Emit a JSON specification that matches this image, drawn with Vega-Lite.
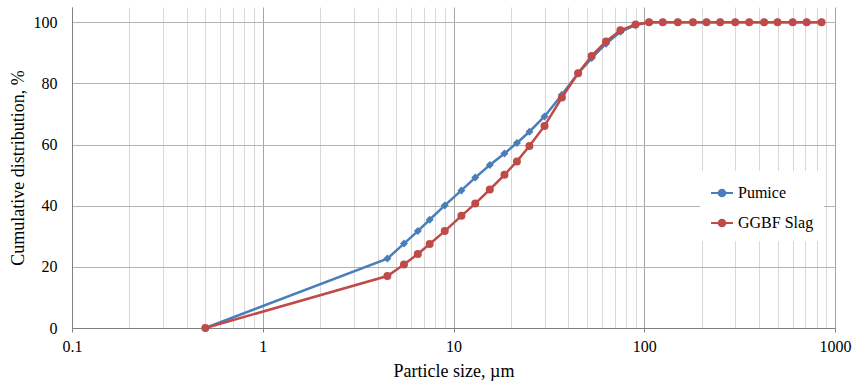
{
  "$schema": "https://vega.github.io/schema/vega-lite/v6.json",
  "width": 763,
  "height": 321,
  "autosize": {"type": "none"},
  "padding": {"left": 72, "top": 7, "right": 18, "bottom": 58},
  "background": "white",
  "config": {
    "font": "Liberation Serif",
    "view": {"stroke": null},
    "axis": {"labelFont": "Liberation Serif", "titleFont": "Liberation Serif", "labelColor": "black", "titleColor": "black", "titleFontWeight": "normal", "labelFontSize": 16, "titleFontSize": 18, "domainColor": "#808080", "domainWidth": 1},
    "legend": {"labelFont": "Liberation Serif"}
  },
  "data": {
    "values": [
      {"size": 0.5, "material": "Pumice", "cum": 0},
      {"size": 4.5, "material": "Pumice", "cum": 22.7},
      {"size": 5.5, "material": "Pumice", "cum": 27.6},
      {"size": 6.5, "material": "Pumice", "cum": 31.7},
      {"size": 7.5, "material": "Pumice", "cum": 35.4},
      {"size": 9, "material": "Pumice", "cum": 40.1},
      {"size": 11, "material": "Pumice", "cum": 45.0},
      {"size": 13, "material": "Pumice", "cum": 49.2},
      {"size": 15.5, "material": "Pumice", "cum": 53.3},
      {"size": 18.5, "material": "Pumice", "cum": 57.1},
      {"size": 21.5, "material": "Pumice", "cum": 60.5},
      {"size": 25, "material": "Pumice", "cum": 64.2},
      {"size": 30, "material": "Pumice", "cum": 69.2},
      {"size": 37, "material": "Pumice", "cum": 76.3},
      {"size": 45, "material": "Pumice", "cum": 83.3},
      {"size": 53, "material": "Pumice", "cum": 88.3},
      {"size": 63, "material": "Pumice", "cum": 93.0},
      {"size": 75, "material": "Pumice", "cum": 96.9},
      {"size": 90, "material": "Pumice", "cum": 99.1},
      {"size": 106, "material": "Pumice", "cum": 100},
      {"size": 125, "material": "Pumice", "cum": 100},
      {"size": 150, "material": "Pumice", "cum": 100},
      {"size": 180, "material": "Pumice", "cum": 100},
      {"size": 212, "material": "Pumice", "cum": 100},
      {"size": 250, "material": "Pumice", "cum": 100},
      {"size": 300, "material": "Pumice", "cum": 100},
      {"size": 355, "material": "Pumice", "cum": 100},
      {"size": 425, "material": "Pumice", "cum": 100},
      {"size": 500, "material": "Pumice", "cum": 100},
      {"size": 600, "material": "Pumice", "cum": 100},
      {"size": 710, "material": "Pumice", "cum": 100},
      {"size": 850, "material": "Pumice", "cum": 100},
      {"size": 0.5, "material": "GGBF Slag", "cum": 0},
      {"size": 4.5, "material": "GGBF Slag", "cum": 17.0},
      {"size": 5.5, "material": "GGBF Slag", "cum": 20.8},
      {"size": 6.5, "material": "GGBF Slag", "cum": 24.2},
      {"size": 7.5, "material": "GGBF Slag", "cum": 27.5},
      {"size": 9, "material": "GGBF Slag", "cum": 31.7},
      {"size": 11, "material": "GGBF Slag", "cum": 36.7},
      {"size": 13, "material": "GGBF Slag", "cum": 40.7},
      {"size": 15.5, "material": "GGBF Slag", "cum": 45.3},
      {"size": 18.5, "material": "GGBF Slag", "cum": 50.1},
      {"size": 21.5, "material": "GGBF Slag", "cum": 54.5},
      {"size": 25, "material": "GGBF Slag", "cum": 59.5},
      {"size": 30, "material": "GGBF Slag", "cum": 66.1},
      {"size": 37, "material": "GGBF Slag", "cum": 75.4},
      {"size": 45, "material": "GGBF Slag", "cum": 83.3},
      {"size": 53, "material": "GGBF Slag", "cum": 89.0},
      {"size": 63, "material": "GGBF Slag", "cum": 93.7},
      {"size": 75, "material": "GGBF Slag", "cum": 97.4},
      {"size": 90, "material": "GGBF Slag", "cum": 99.3},
      {"size": 106, "material": "GGBF Slag", "cum": 100},
      {"size": 125, "material": "GGBF Slag", "cum": 100},
      {"size": 150, "material": "GGBF Slag", "cum": 100},
      {"size": 180, "material": "GGBF Slag", "cum": 100},
      {"size": 212, "material": "GGBF Slag", "cum": 100},
      {"size": 250, "material": "GGBF Slag", "cum": 100},
      {"size": 300, "material": "GGBF Slag", "cum": 100},
      {"size": 355, "material": "GGBF Slag", "cum": 100},
      {"size": 425, "material": "GGBF Slag", "cum": 100},
      {"size": 500, "material": "GGBF Slag", "cum": 100},
      {"size": 600, "material": "GGBF Slag", "cum": 100},
      {"size": 710, "material": "GGBF Slag", "cum": 100},
      {"size": 850, "material": "GGBF Slag", "cum": 100}
    ]
  },
  "encoding": {
    "x": {
      "field": "size",
      "type": "quantitative",
      "scale": {"type": "log", "domain": [0.1, 1000], "nice": false},
      "axis": {
        "title": "Particle size, µm",
        "values": [0.1, 0.2, 0.3, 0.4, 0.5, 0.6, 0.7, 0.8, 0.9, 1, 2, 3, 4, 5, 6, 7, 8, 9, 10, 20, 30, 40, 50, 60, 70, 80, 90, 100, 200, 300, 400, 500, 600, 700, 800, 900, 1000],
        "labelExpr": "abs(log(datum.value)/LN10 - round(log(datum.value)/LN10)) < 0.001 ? format(datum.value, '~g') : ''",
        "labelOverlap": false,
        "labelPadding": 6,
        "labelFlush": false,
        "tickSize": 4,
        "tickColor": {"condition": {"test": "abs(log(datum.value)/LN10 - round(log(datum.value)/LN10)) < 0.001", "value": "#808080"}, "value": "transparent"},
        "grid": true,
        "gridColor": {"condition": {"test": "abs(log(datum.value)/LN10 - round(log(datum.value)/LN10)) < 0.001", "value": "#a6a6a6"}, "value": "#d9d9d9"},
        "titlePadding": 8
      }
    },
    "y": {
      "field": "cum",
      "type": "quantitative",
      "scale": {"domain": [0, 105], "nice": false},
      "axis": {
        "title": "Cumulative distribution, %",
        "values": [0, 20, 40, 60, 80, 100],
        "ticks": false,
        "tickSize": 0,
        "labelPadding": 15,
        "grid": true,
        "gridColor": "#b3b3b3",
        "titlePadding": 6
      }
    },
    "color": {
      "field": "material",
      "type": "nominal",
      "scale": {"domain": ["Pumice", "GGBF Slag"], "range": ["#4A7EBB", "#BE4B48"]},
      "legend": {
        "orient": "none",
        "legendX": 628,
        "legendY": 164,
        "title": null,
        "fillColor": "white",
        "padding": 10,
        "labelFontSize": 16,
        "labelColor": "black",
        "symbolType": "M-1,0H1M-0.3,0A0.3,0.3 0 1 1 0.3,0A0.3,0.3 0 1 1 -0.3,0",
        "symbolSize": 484,
        "symbolStrokeWidth": 2,
        "rowPadding": 10,
        "labelOffset": 4,
        "encode": {"symbols": {"update": {
          "fill": {"scale": "color", "field": "value"},
          "stroke": {"scale": "color", "field": "value"},
          "opacity": {"value": 1}}}}
      }
    }
  },
  "layer": [
    {"mark": {"type": "line", "strokeWidth": 2.5}},
    {
      "transform": [{"filter": "datum.material === 'Pumice'"}],
      "mark": {"type": "point", "filled": true, "opacity": 1, "shape": "diamond", "size": 64}
    },
    {
      "transform": [{"filter": "datum.material === 'GGBF Slag'"}],
      "mark": {"type": "point", "filled": true, "opacity": 1, "shape": "circle", "size": 64}
    }
  ]
}
